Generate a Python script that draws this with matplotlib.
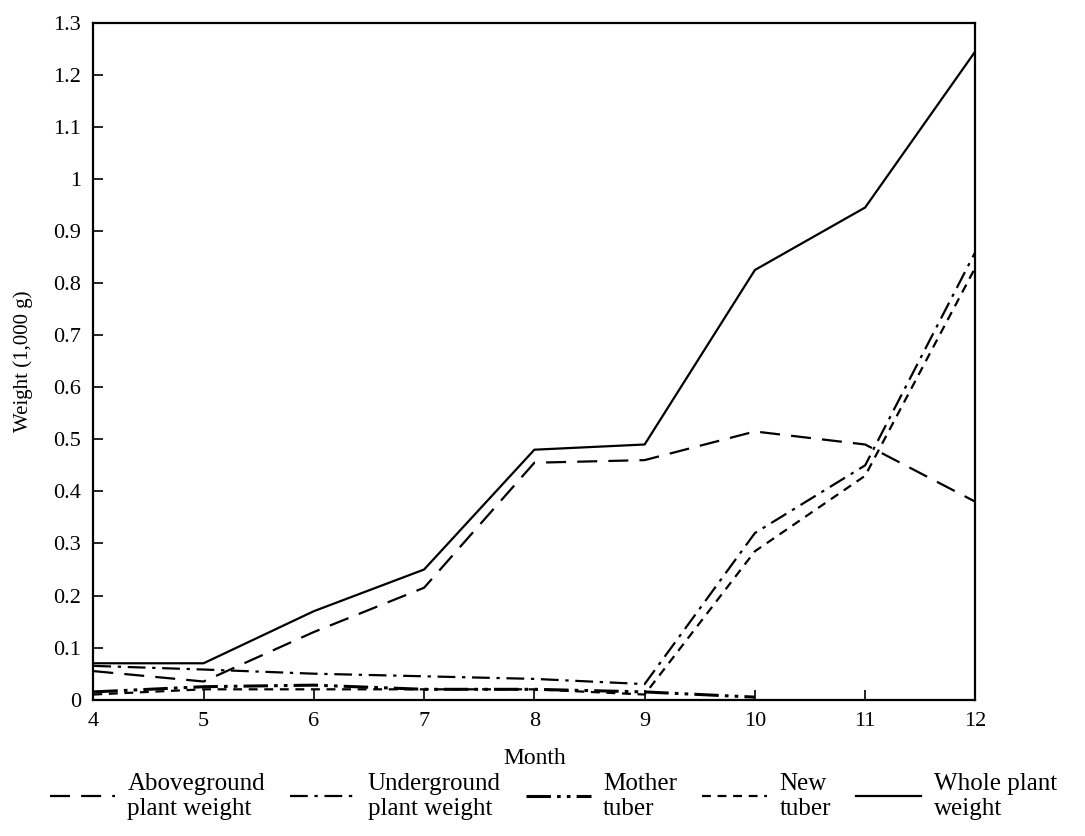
import numpy as np
import matplotlib.pyplot as plt

plt.rcParams['font.family'] = ['Liberation Serif', 'DejaVu Serif']

months = [4, 5, 6, 7, 8, 9, 10, 11, 12]
aboveground = [0.055, 0.035, 0.13, 0.215, 0.455, 0.46, 0.515, 0.49, 0.38]
underground = [0.065, 0.058, 0.05, 0.045, 0.04, 0.03, 0.32, 0.45, 0.86]
mother_months = [4, 5, 6, 7, 8, 9, 10]
mother_tuber = [0.015, 0.025, 0.028, 0.02, 0.02, 0.015, 0.005]
new_tuber = [0.01, 0.02, 0.02, 0.02, 0.02, 0.01, 0.285, 0.43, 0.83]
whole_plant = [0.07, 0.07, 0.17, 0.25, 0.48, 0.49, 0.825, 0.945, 1.245]

fig = plt.figure(figsize=(10.85, 8.36), dpi=100)
ax = fig.add_axes([0.086, 0.163, 0.813, 0.81])

lw = 1.6
ax.plot(months, aboveground, color='black', lw=lw, dashes=(9, 5),
        label='Aboveground\nplant weight')
ax.plot(months, underground, color='black', lw=lw, dashes=(8, 3, 1.5, 3),
        label='Underground\nplant weight')
ax.plot(mother_months, mother_tuber, color='black', lw=lw + 0.6,
        dashes=(8, 2, 1.2, 2, 1.2, 2), label='Mother\ntuber')
ax.plot(months, new_tuber, color='black', lw=lw, dashes=(4, 3),
        label='New\ntuber')
ax.plot(months, whole_plant, color='black', lw=lw, label='Whole plant\nweight')

ax.set_xlim(4, 12)
ax.set_ylim(0, 1.3)
ax.set_xticks(months)
ax.set_yticks(np.arange(0, 1.31, 0.1))
ax.set_yticklabels(['%g' % round(v, 1) for v in np.arange(0, 1.31, 0.1)])
ax.tick_params(direction='in', length=7, width=1.2, labelsize=16,
               top=False, right=False)
ax.tick_params(axis='y', pad=9)
ax.tick_params(axis='x', pad=9)
for s in ax.spines.values():
    s.set_linewidth(1.6)

ax.set_xlabel('Month', fontsize=17, labelpad=12)
ax.set_ylabel('Weight (1,000 g)', fontsize=15, labelpad=14)

fig.legend(loc='lower center', bbox_to_anchor=(0.51, -0.008), ncol=5,
           frameon=False, fontsize=18, handlelength=2.6, handletextpad=0.5,
           columnspacing=1.0, labelspacing=0.2)

fig.savefig('out.png', dpi=100)
